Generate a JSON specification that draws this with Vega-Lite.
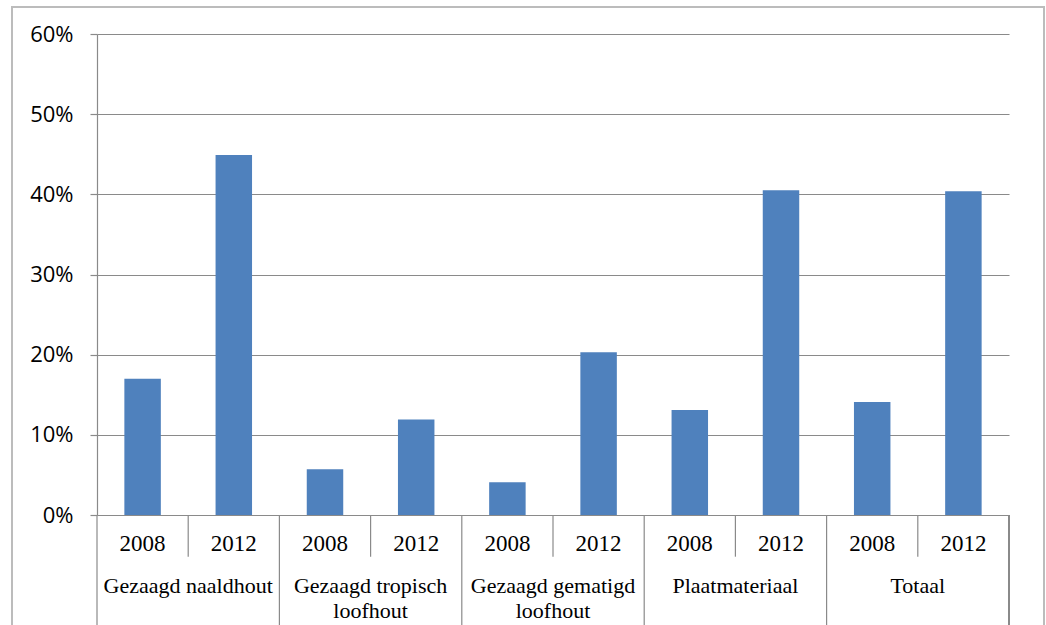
{
  "$schema": "https://vega.github.io/schema/vega-lite/v6.json",
  "width": 912,
  "height": 481,
  "autosize": {"type": "none"},
  "padding": {"left": 97, "top": 34, "right": 37, "bottom": 110},
  "background": "white",
  "config": {"view": {"stroke": null}},
  "data": {
    "values": [
      {"category": "Gezaagd naaldhout", "year": "2008", "value": 0.170},
      {"category": "Gezaagd naaldhout", "year": "2012", "value": 0.449},
      {"category": "Gezaagd tropisch\nloofhout", "year": "2008", "value": 0.057},
      {"category": "Gezaagd tropisch\nloofhout", "year": "2012", "value": 0.119},
      {"category": "Gezaagd gematigd\nloofhout", "year": "2008", "value": 0.041},
      {"category": "Gezaagd gematigd\nloofhout", "year": "2012", "value": 0.203},
      {"category": "Plaatmateriaal", "year": "2008", "value": 0.131},
      {"category": "Plaatmateriaal", "year": "2012", "value": 0.405},
      {"category": "Totaal", "year": "2008", "value": 0.141},
      {"category": "Totaal", "year": "2012", "value": 0.404}
    ]
  },
  "layer": [
    {
      "mark": {"type": "rect", "fill": null, "stroke": "#bcbcbc", "strokeWidth": 1.5},
      "encoding": {
        "x": {
          "datum": "Gezaagd naaldhout",
          "type": "nominal",
          "bandPosition": -0.466,
          "scale": {
            "domain": ["Gezaagd naaldhout", "Gezaagd tropisch\nloofhout", "Gezaagd gematigd\nloofhout", "Plaatmateriaal", "Totaal"],
            "paddingInner": 0,
            "paddingOuter": 0
          },
          "axis": null
        },
        "x2": {"datum": "Totaal", "bandPosition": 1.192},
        "y": {"datum": 0.6337, "type": "quantitative"},
        "y2": {"datum": -0.2}
      }
    },
    {
      "mark": {"type": "bar", "color": "#4F81BD"},
      "encoding": {
        "x": {"field": "category", "type": "nominal", "sort": null, "axis": null},
        "xOffset": {"field": "year", "type": "nominal", "scale": {"paddingInner": 0.6, "paddingOuter": 0.3}},
        "y": {
          "field": "value",
          "type": "quantitative",
          "scale": {"domain": [0, 0.6], "nice": false},
          "axis": {
            "title": null,
            "values": [0, 0.1, 0.2, 0.3, 0.4, 0.5, 0.6],
            "format": ".0%",
            "grid": true,
            "gridColor": "#8a8a8a",
            "gridWidth": 1.2,
            "domain": true,
            "domainColor": "#8a8a8a",
            "domainWidth": 1.2,
            "tickColor": "#8a8a8a",
            "tickSize": 7,
            "tickWidth": 1.2,
            "labelPadding": 17,
            "labelFont": "Open Sans",
            "labelFontSize": 22,
            "labelColor": "#000000"
          }
        }
      }
    },
    {
      "transform": [{"filter": "datum.year == '2008'"}],
      "mark": {"type": "rule", "color": "#8a8a8a", "strokeWidth": 1.2},
      "encoding": {
        "x": {"field": "category", "type": "nominal", "sort": null, "bandPosition": 0},
        "y": {"datum": 0},
        "y2": {"datum": -0.14}
      }
    },
    {
      "transform": [{"filter": "datum.year == '2008'"}],
      "mark": {"type": "rule", "color": "#8a8a8a", "strokeWidth": 1.2},
      "encoding": {
        "x": {"field": "category", "type": "nominal", "sort": null, "bandPosition": 0.5},
        "y": {"datum": 0},
        "y2": {"datum": -0.052}
      }
    },
    {
      "mark": {"type": "rule", "color": "#8a8a8a", "strokeWidth": 1.2},
      "encoding": {
        "x": {"datum": "Totaal", "type": "nominal", "bandPosition": 1},
        "y": {"datum": 0},
        "y2": {"datum": -0.14}
      }
    },
    {
      "mark": {"type": "text", "font": "Liberation Serif", "fontSize": 23, "baseline": "alphabetic", "align": "center", "color": "#000000"},
      "encoding": {
        "x": {"field": "category", "type": "nominal", "sort": null},
        "xOffset": {"field": "year", "type": "nominal"},
        "y": {"datum": -0.0445},
        "text": {"field": "year"}
      }
    },
    {
      "transform": [{"filter": "datum.year == '2008'"}],
      "mark": {"type": "text", "font": "Liberation Serif", "fontSize": 22, "baseline": "alphabetic", "align": "center", "lineBreak": "\n", "lineHeight": 25, "color": "#000000"},
      "encoding": {
        "x": {"field": "category", "type": "nominal", "sort": null},
        "y": {"datum": -0.0973},
        "text": {"field": "category"}
      }
    }
  ]
}
